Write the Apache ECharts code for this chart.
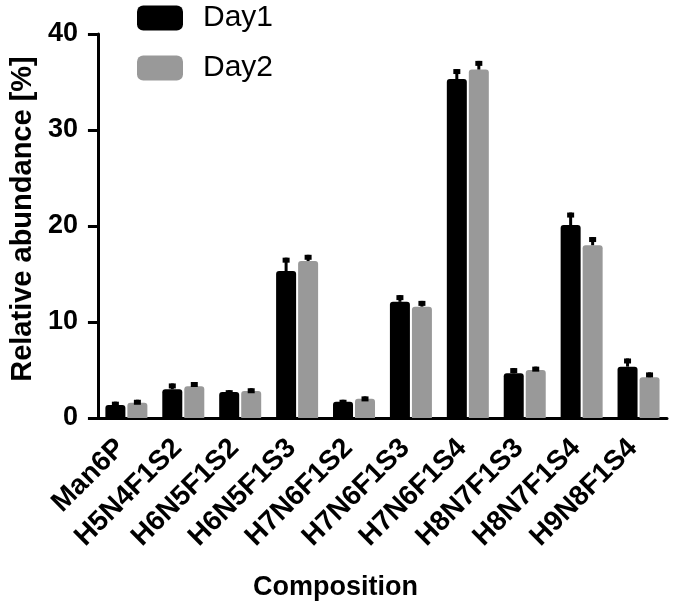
<!DOCTYPE html>
<html>
<head>
<meta charset="utf-8">
<script src="https://cdn.jsdelivr.net/npm/echarts@6/dist/echarts.min.js"></script>
<style>html,body{margin:0;padding:0;background:#fff;}#c{width:675px;height:609px;}</style>
</head>
<body>
<div id="c"></div>
<script>
var categories = ['Man6P','H5N4F1S2','H6N5F1S2','H6N5F1S3','H7N6F1S2','H7N6F1S3','H7N6F1S4','H8N7F1S3','H8N7F1S4','H9N8F1S4'];
var day1 = [1.35, 3.0, 2.7, 15.3, 1.7, 12.1, 35.3, 4.65, 20.1, 5.35];
var day2 = [1.6, 3.3, 2.8, 16.35, 2.0, 11.6, 36.3, 5.0, 18.0, 4.25];
var day1Err = [0.35, 0.6, 0.2, 1.4, 0.2, 0.7, 1.05, 0.55, 1.3, 0.85];
var day2Err = [0.3, 0.45, 0.3, 0.65, 0.25, 0.6, 0.9, 0.35, 0.85, 0.5];
var yTicks = [0, 10, 20, 30, 40];

var FONT = '"Liberation Sans", Arial, Helvetica, sans-serif';
var BAR_W = 20, GAP = 2;

function errSeries(vals, errs, side) {
  var data = vals.map(function (v, i) { return [i, v, errs[i]]; });
  return {
    type: 'custom',
    silent: true,
    z: 10,
    renderItem: function (params, api) {
      var i = api.value(0), v = api.value(1), e = api.value(2);
      var base = api.coord([i, v]);
      var top = api.coord([i, v + e]);
      var x = base[0] + side * (BAR_W + GAP) / 2;
      return {
        type: 'group',
        children: [
          { type: 'rect', shape: { x: x - 1.5, y: top[1], width: 3, height: base[1] - top[1] }, style: { fill: '#000' } },
          { type: 'rect', shape: { x: x - 3.5, y: top[1], width: 7, height: 5 }, style: { fill: '#000' } }
        ]
      };
    },
    data: data
  };
}

var chart = echarts.init(document.getElementById('c'));
chart.setOption({
  animation: false,
  backgroundColor: '#fff',
  textStyle: { fontFamily: FONT },
  legend: {
    orient: 'vertical',
    left: 137, top: 3, padding: 0,
    itemWidth: 46, itemHeight: 25, itemGap: 20,
    icon: 'roundRect',
    textStyle: { fontSize: 30, lineHeight: 25, color: '#000', fontFamily: FONT, padding: [0, 0, 0, 15] },
    data: ['Day1', 'Day2']
  },
  grid: { left: 93, right: 8, top: 34, bottom: 191, containLabel: false },
  xAxis: {
    type: 'category',
    data: categories,
    axisLine: { lineStyle: { color: '#000', width: 3 } },
    axisTick: { alignWithLabel: true, length: 10, lineStyle: { color: '#000', width: 3 } },
    axisLabel: {
      rotate: 45, interval: 0, margin: 20,
      fontSize: 28, fontWeight: 'bold', color: '#000', fontFamily: FONT,
      padding: [0, 8, 0, 0]
    },
    name: 'Composition',
    nameLocation: 'middle',
    nameGap: 156,
    nameTextStyle: { fontSize: 27, fontWeight: 'bold', color: '#000', fontFamily: FONT, padding: [0, 94, 0, 0] }
  },
  yAxis: {
    type: 'value',
    min: 0, max: 40, interval: 10,
    splitLine: { show: false },
    axisLine: { show: true, lineStyle: { color: '#000', width: 3 } },
    axisTick: { show: true, length: 10, lineStyle: { color: '#000', width: 3 } },
    axisLabel: {
      margin: 20, fontSize: 27, fontWeight: 'bold', color: '#000', fontFamily: FONT,
      formatter: function (v) { return yTicks.indexOf(v) >= 0 ? String(v) : ''; }
    },
    name: 'Relative abundance [%]',
    nameLocation: 'middle',
    nameRotate: 90,
    nameGap: 60,
    nameTextStyle: { fontSize: 29, fontWeight: 'bold', color: '#000', fontFamily: FONT, padding: [0, 0, 0, 14] }
  },
  series: [
    { name: 'Day1', type: 'bar', data: day1, barWidth: BAR_W, barGap: '10%',
      itemStyle: { color: '#000000', borderRadius: [3, 3, 0, 0] } },
    { name: 'Day2', type: 'bar', data: day2, barWidth: BAR_W, barGap: '10%',
      itemStyle: { color: '#999999', borderRadius: [3, 3, 0, 0] } },
    errSeries(day1, day1Err, -1),
    errSeries(day2, day2Err, 1)
  ]
});
</script>
</body>
</html>
